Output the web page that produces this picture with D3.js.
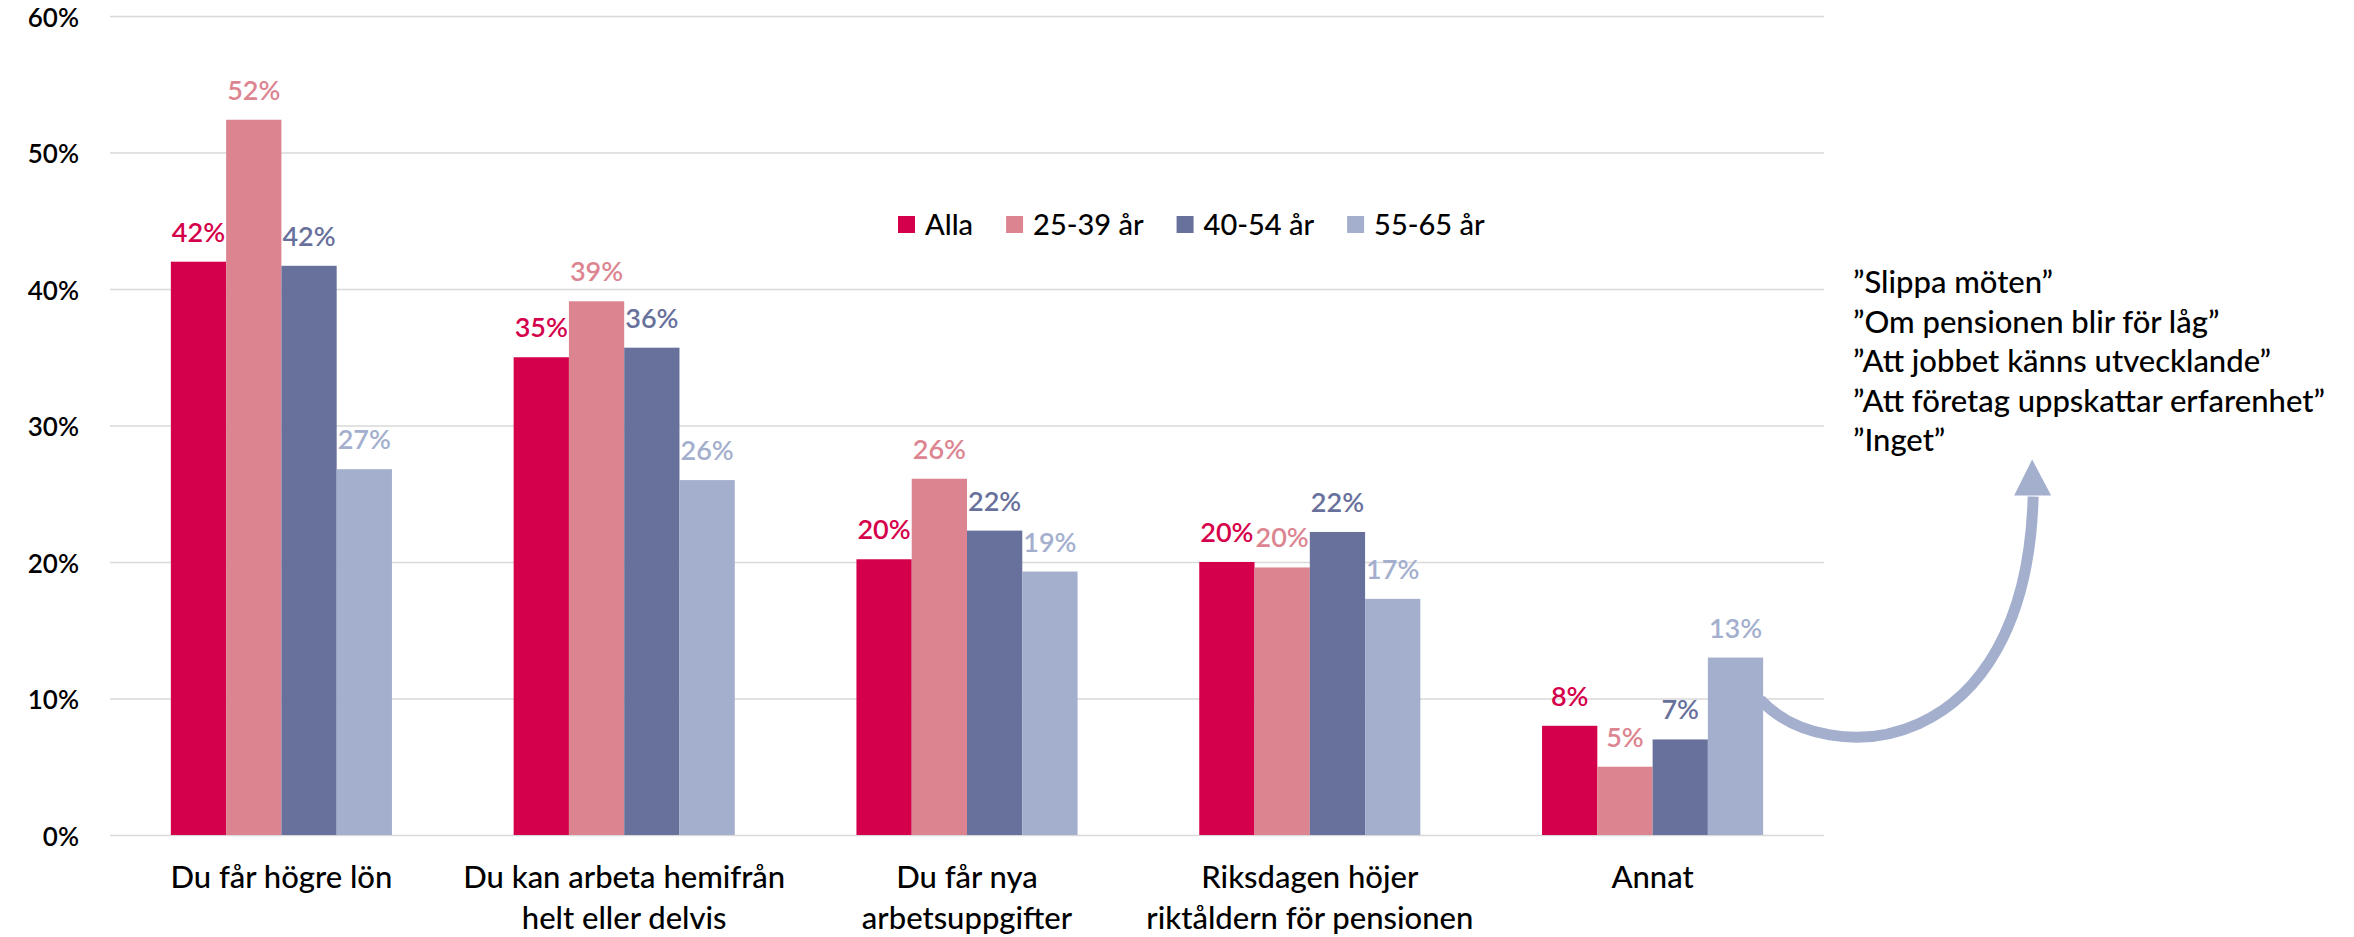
<!DOCTYPE html>
<html lang="sv">
  <head>
    <meta charset="UTF-8" />
    <script src="https://d3js.org/d3.v7.min.js"></script>
    <title>Drivkrafter</title>
    <style>
      body { margin: 0; background: #fff; }
      text { font-family: Lato, "Open Sans", sans-serif; }
    </style>
  </head>
  <body>
    <svg id="chart" width="2354" height="937"></svg>
  </body>
  <script>
    // data
    var categories = [
      ["Du får högre lön"],
      ["Du kan arbeta hemifrån", "helt eller delvis"],
      ["Du får nya", "arbetsuppgifter"],
      ["Riksdagen höjer", "riktåldern för pensionen"],
      ["Annat"]
    ];
    var series = ["Alla", "25-39 år", "40-54 år", "55-65 år"];
    var alla = [42.0, 35.0, 20.2, 20.0, 8.0];
    var age25 = [52.4, 39.1, 26.1, 19.6, 5.0];
    var age40 = [41.7, 35.7, 22.3, 22.2, 7.0];
    var age55 = [26.8, 26.0, 19.3, 17.3, 13.0];
    var labels = [
      ["42%", "35%", "20%", "20%", "8%"],
      ["52%", "39%", "26%", "20%", "5%"],
      ["42%", "36%", "22%", "22%", "7%"],
      ["27%", "26%", "19%", "17%", "13%"]
    ];
    var yTicks = [0, 10, 20, 30, 40, 50, 60];
    var quotes = [
      "”Slippa möten”",
      "”Om pensionen blir för låg”",
      "”Att jobbet känns utvecklande”",
      "”Att företag uppskattar erfarenhet”",
      "”Inget”"
    ];
    var colors = ["#d5004b", "#dc8591", "#68709c", "#a4afce"];

    var values = [alla, age25, age40, age55];
    var catKeys = categories.map(function (d) { return d.join(" "); });

    var svg = d3.select("#chart");

    var y = d3.scaleLinear().domain([0, 60]).range([835, 16]);
    var x0 = d3.scaleBand().domain(catKeys).range([110, 1824])
      .paddingInner(0.355).paddingOuter(0.1775);
    var x1 = d3.scaleBand().domain(series).range([0, x0.bandwidth()]);
    var color = d3.scaleOrdinal().domain(series).range(colors);

    // gridlines + y labels
    var yAxis = svg.append("g")
      .attr("transform", "translate(110,0)")
      .call(d3.axisLeft(y).tickValues(yTicks).tickSize(-1714)
        .tickFormat(function (d) { return d + "%"; }));
    yAxis.select(".domain").remove();
    yAxis.selectAll(".tick line").attr("stroke", "#d9d9d9").attr("stroke-width", 1.5);
    yAxis.selectAll(".tick text")
      .attr("x", -31)
      .attr("dy", "0.4em")
      .style("font-size", "26px")
      .style("font-weight", 600)
      .attr("fill", "#000");

    // bars
    var groups = svg.append("g").selectAll("g")
      .data(catKeys)
      .enter().append("g")
      .attr("transform", function (d) { return "translate(" + x0(d) + ",0)"; });

    function rows(d, i) {
      return series.map(function (s, j) { return { s: s, v: values[j][i], l: labels[j][i] }; });
    }

    groups.selectAll("rect")
      .data(rows)
      .enter().append("rect")
      .attr("x", function (d) { return x1(d.s); })
      .attr("y", function (d) { return y(d.v); })
      .attr("width", x1.bandwidth())
      .attr("height", function (d) { return y(0) - y(d.v); })
      .attr("fill", function (d) { return color(d.s); });

    groups.selectAll("text")
      .data(rows)
      .enter().append("text")
      .attr("x", function (d) { return x1(d.s) + x1.bandwidth() / 2; })
      .attr("y", function (d) { return y(d.v) - 20; })
      .attr("text-anchor", "middle")
      .style("font-size", "27px")
      .style("font-weight", 600)
      .attr("fill", function (d) { return color(d.s); })
      .text(function (d) { return d.l; });

    // category labels
    svg.append("g").selectAll("text")
      .data(categories)
      .enter().append("text")
      .attr("x", function (d, i) { return x0(catKeys[i]) + x0.bandwidth() / 2; })
      .attr("y", 888)
      .attr("text-anchor", "middle")
      .style("font-size", "31px")
      .style("font-weight", 500)
      .attr("fill", "#000")
      .each(function (d) {
        var t = d3.select(this);
        d.forEach(function (line, k) {
          t.append("tspan")
            .attr("x", t.attr("x"))
            .attr("dy", k === 0 ? 0 : 41)
            .text(line);
        });
      });

    // legend
    var legend = svg.append("g").attr("transform", "translate(898,225)");
    var lx = 0;
    series.forEach(function (s) {
      var item = legend.append("g").attr("transform", "translate(" + lx + ",0)");
      item.append("rect").attr("x", 0).attr("y", -9).attr("width", 17).attr("height", 17)
        .attr("fill", color(s));
      var t = item.append("text")
        .attr("x", 27).attr("y", 10)
        .style("font-size", "29px")
        .style("font-weight", 500)
        .attr("fill", "#000")
        .text(s);
      lx += 27 + t.node().getComputedTextLength() + 33;
    });

    // quotes for "Annat"
    svg.append("g").selectAll("text")
      .data(quotes)
      .enter().append("text")
      .attr("x", 1853)
      .attr("y", function (d, i) { return 293 + i * 39.5; })
      .style("font-size", "31px")
      .style("font-weight", 500)
      .attr("fill", "#000")
      .text(function (d) { return d; });

    // curved arrow from the 55-65 bar of "Annat"
    var last = catKeys[catKeys.length - 1];
    var sx = x0(last) + x1("55-65 år") + x1.bandwidth() - 3;
    var sy = y(age55[age55.length - 1]) + 42;
    var arrowColor = "#a4afce";
    var p = d3.path();
    p.moveTo(sx, sy);
    p.bezierCurveTo(sx + 66, sy + 71, sx + 266, sy + 61, sx + 273, sy - 203);
    svg.append("path")
      .attr("d", p.toString())
      .attr("fill", "none")
      .attr("stroke", arrowColor)
      .attr("stroke-width", 11);
    svg.append("path")
      .attr("d", "M" + (sx + 272) + "," + (sy - 240) + "L" + (sx + 291) + "," + (sy - 204) +
        "L" + (sx + 254) + "," + (sy - 204) + "Z")
      .attr("fill", arrowColor);
  </script>
</html>
